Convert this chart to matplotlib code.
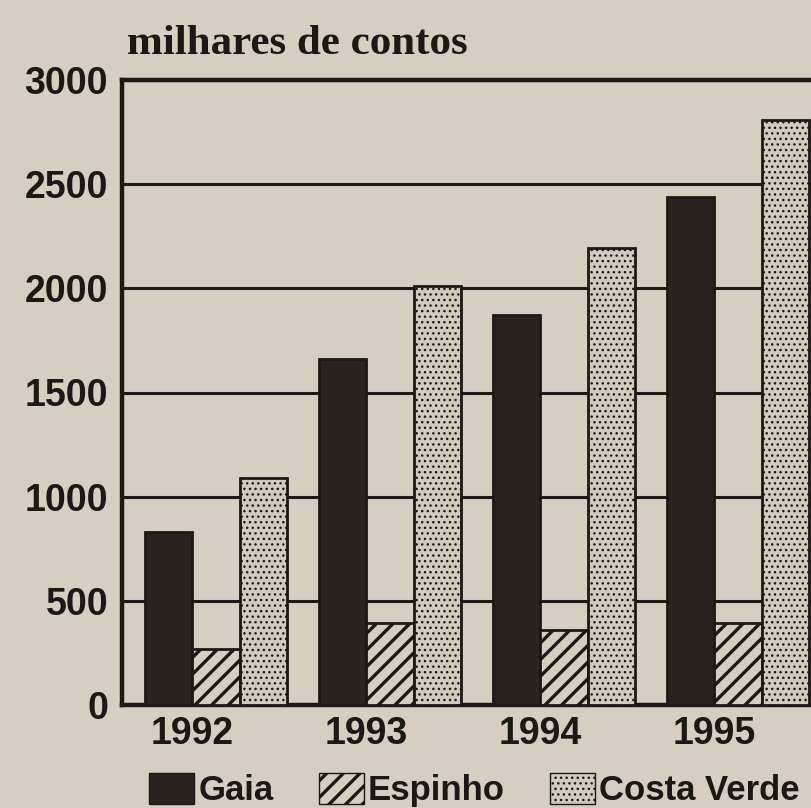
import matplotlib.pyplot as plt
from matplotlib.patches import Patch
import numpy as np

# data (milhares de contos)
years = ['1992', '1993', '1994', '1995']
gaia = [830, 1660, 1870, 2440]
espinho = [270, 395, 360, 395]
costa_verde = [1090, 2010, 2195, 2810]
yticks = [0, 500, 1000, 1500, 2000, 2500, 3000]

paper = '#d7cec2'
ink = '#1c1816'
dark = '#2a2320'
dotted = '#d2cabf'

plt.rcParams['hatch.color'] = ink
plt.rcParams['font.family'] = ['Liberation Sans', 'DejaVu Sans']

fig = plt.figure(figsize=(8.11, 8.08), dpi=100)
fig.patch.set_facecolor(paper)

# axes run off the right edge of the picture, like the cropped scan
ax = fig.add_axes([122 / 811, 103 / 808, (845 - 122) / 811, 625 / 808])
ax.set_facecolor(paper)

x = np.arange(len(years))
w = 0.272
ax.bar(x - w, gaia, w, color=dark, edgecolor=ink, linewidth=2, zorder=3)
plt.rcParams['hatch.linewidth'] = 2.4
ax.bar(x, espinho, w, color=paper, edgecolor=ink, linewidth=2, hatch='//', zorder=3)
plt.rcParams['hatch.linewidth'] = 1.0
ax.bar(x + w, costa_verde, w, color=dotted, edgecolor=ink, linewidth=2, hatch='...', zorder=3)

ax.set_xlim(-0.54, 3.615)
ax.set_ylim(0, 3000)
ax.set_yticks(yticks)
ax.set_yticklabels([str(v) for v in yticks], fontsize=27, fontweight='bold', color=ink)
ax.set_xticks(x - w / 2)
ax.set_xticklabels(years, fontsize=27, fontweight='bold', color=ink)
ax.tick_params(axis='both', length=0)
ax.tick_params(axis='y', pad=10)
ax.tick_params(axis='x', pad=8)

ax.yaxis.grid(True, color=ink, linewidth=2.2, zorder=0)
ax.set_axisbelow(True)
for side in ['left', 'top', 'bottom']:
    ax.spines[side].set_linewidth(3.2)
    ax.spines[side].set_color(ink)
ax.spines['right'].set_visible(False)

fig.text(127 / 811, 1 - 54 / 808, 'milhares de contos', family='Liberation Serif',
         fontsize=31, fontweight='bold', color=ink, va='baseline', ha='left')

handles = [
    Patch(facecolor=dark, edgecolor=ink, label='Gaia'),
    Patch(facecolor=paper, edgecolor=ink, hatch='//', label='Espinho'),
    Patch(facecolor=dotted, edgecolor=ink, hatch='...', label='Costa Verde'),
]
leg = fig.legend(handles=handles, loc='center left',
                 bbox_to_anchor=(149 / 811, 18 / 808),
                 ncol=3, frameon=False, prop={'size': 25, 'weight': 'bold'},
                 handlelength=1.3, handleheight=1.0, handletextpad=0.12,
                 columnspacing=1.3, borderpad=0, borderaxespad=0)
for t in leg.get_texts():
    t.set_color(ink)
# legend keys get their own hatch widths
for p, lw in zip(leg.get_patches(), [1.0, 2.4, 1.0]):
    if hasattr(p, 'set_hatch_linewidth'):
        p.set_hatch_linewidth(lw)
    else:
        p._hatch_linewidth = lw

fig.savefig('out.png', dpi=100, facecolor=paper)
